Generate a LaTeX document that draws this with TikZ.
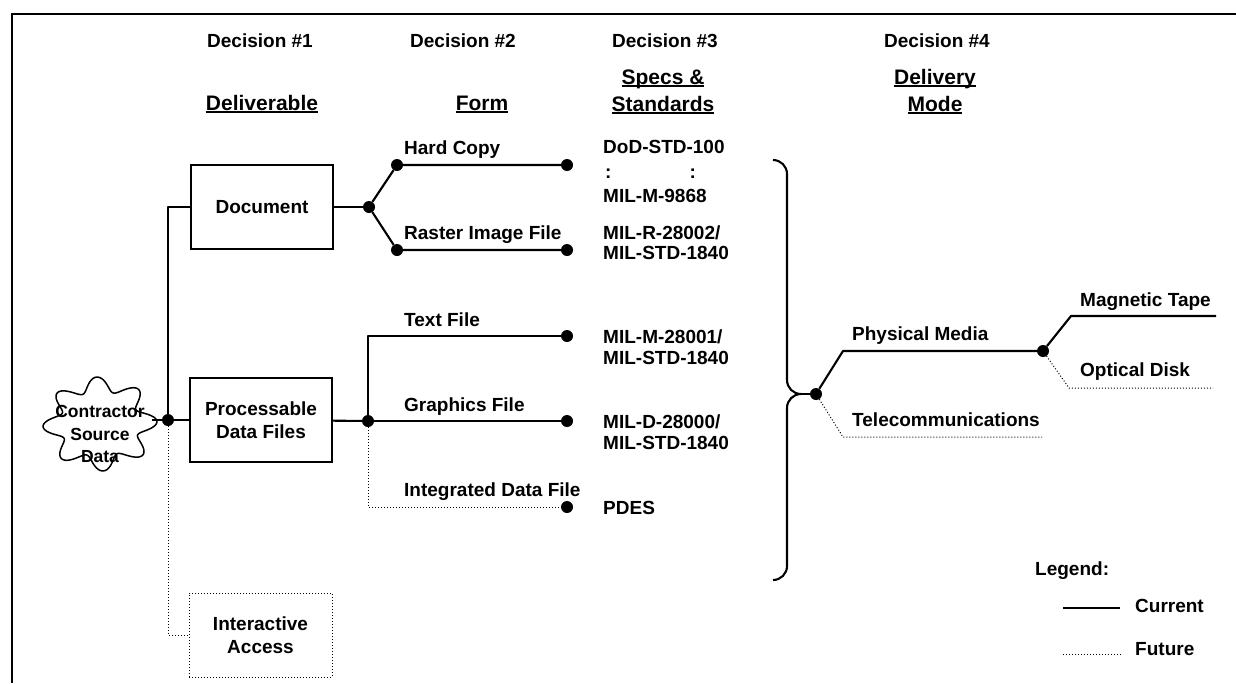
\documentclass[tikz,border=0pt]{standalone}
\usepackage{fontspec}
\setmainfont{Liberation Sans}
% underlined heading word with a rule that cuts through descenders
\newcommand\hdrule[1]{\setbox0=\hbox{#1}\rlap{\rule[-2.5pt]{\wd0}{1.6pt}}\box0}
\begin{document}
\begin{tikzpicture}[x=1pt,y=-1pt,
  every node/.style={font=\fontsize{19}{23}\selectfont\bfseries, inner sep=0pt},
  hd/.style={font=\fontsize{21}{26}\selectfont\bfseries, anchor=base},
  lbl/.style={anchor=base west},
  nowline/.style={line width=2.1pt, line join=round},
  futline/.style={line width=1pt, dash pattern=on 1pt off 2pt},
  jdot/.style={circle, fill=black, minimum size=12pt},
  dbox/.style={draw, line width=2pt, minimum width=142pt, minimum height=84pt, align=center},
  fbox/.style={draw, futline, minimum width=143pt, minimum height=84pt, align=center},
]
\useasboundingbox (0,0) rectangle (1236,683);

% frame
\draw[line width=2.6pt] (1236,14) -- (12,14) -- (12,683);

% column headings
\node[anchor=base] (dec1) at (260,47) {Decision \#1};
\node[anchor=base] (dec2) at (463,47) {Decision \#2};
\node[anchor=base] (dec3) at (665,47) {Decision \#3};
\node[anchor=base] (dec4) at (937,47) {Decision \#4};
\node[hd] (hdel) at (262,110) {\hdrule{Deliverable}};
\node[hd] (hform) at (482,110) {\hdrule{Form}};
\node[hd] (hspec) at (663,84) {\hdrule{Specs \&}};
\node[hd] (hstd) at (663,111) {\hdrule{Standards}};
\node[hd] (hdlv) at (935,84) {\hdrule{Delivery}};
\node[hd] (hmode) at (935,111) {\hdrule{Mode}};

% source: wavy outline behind the text
\node[minimum width=104pt, align=center, font=\fontsize{17.5}{22.5}\selectfont\bfseries] (src) at (100,434) {Contractor\\Source\\Data};
\draw[line width=1.5pt, line join=round] plot[domain=0:360, samples=361]
  ({100+57*(0.85+0.15*cos(8*\x+25))*cos(\x)},
   {424+47*(0.85+0.15*cos(8*\x+25))*sin(\x)}) -- cycle;

% deliverables
\node[jdot] (d1) at (168,420) {};
\node[dbox] (doc) at (262,207) {Document};
\node[dbox] (proc) at (261,420) {Processable\\Data Files};
\node[fbox] (inter) at (260.5,635) {Interactive\\Access};
\draw[nowline] (d1) -- (d1 -| src.east);
\draw[nowline] (d1) -- (proc);
\draw[nowline] (d1) |- (doc);
\draw[futline] (d1) |- (inter);

% forms of a document
\node[jdot] (d2) at (369,207) {};
\node[jdot] (hc0) at (397,165) {};
\node[jdot] (hc1) at (567,165) {};
\node[jdot] (ri0) at (397,250) {};
\node[jdot] (ri1) at (567,250) {};
\draw[nowline] (doc) -- (d2);
\draw[nowline] (d2) -- (hc0) -- (hc1);
\draw[nowline] (d2) -- (ri0) -- (ri1);
\node[lbl] (lhc) at (404,154) {Hard Copy};
\node[lbl] (lri) at (404,239) {Raster Image File};

% forms of processable data
\node[jdot] (d3) at (368,421) {};
\node[jdot] (tf) at (567,336) {};
\node[jdot] (gf) at (567,421) {};
\node[jdot] (idf) at (567,507) {};
\draw[nowline] (proc) -- (d3);
\draw[nowline] (d3) |- (tf);
\draw[nowline] (d3) -- (gf);
\draw[futline] (d3) |- (idf);
\node[lbl] (ltf) at (404,326) {Text File};
\node[lbl] (lgf) at (404,411) {Graphics File};
\node[lbl] (lidf) at (404,496) {Integrated Data File};

% specifications and standards
\node[lbl] (s1) at (603,153) {DoD-STD-100};
\node[lbl] (s2) at (605,178) {:\hspace{78pt}:};
\node[lbl] (s3) at (603,202) {MIL-M-9868};
\node[lbl] (s4) at (603,239) {MIL-R-28002/};
\node[lbl] (s5) at (603,259) {MIL-STD-1840};
\node[lbl] (s6) at (603,343) {MIL-M-28001/};
\node[lbl] (s7) at (603,364) {MIL-STD-1840};
\node[lbl] (s8) at (603,428) {MIL-D-28000/};
\node[lbl] (s9) at (603,449) {MIL-STD-1840};
\node[lbl] (s10) at (603,514) {PDES};

% brace gathering all deliverables
\coordinate (cusp) at (801,394);
\draw[nowline] (773,160) to[out=0,in=90] (787,174) -- (787,380)
  to[out=-90,in=180] (cusp) to[out=180,in=90] (787,408) -- (787,566)
  to[out=-90,in=0] (773,580);

% delivery mode
\node[jdot] (dm) at (816,394) {};
\draw[nowline] (cusp) -- (dm);
\coordinate (pm0) at (843,351);
\node[jdot] (pm1) at (1043,351) {};
\coordinate (tc0) at (843,437);
\coordinate (tc1) at (1042,437);
\draw[nowline] (dm) -- (pm0) -- (pm1);
\draw[futline] (dm) -- (tc0) -- (tc1);
\node[lbl] (lpm) at (852,340) {Physical Media};
\node[lbl] (ltc) at (852,426) {Telecommunications};
\coordinate (mt0) at (1071,316);
\coordinate (mt1) at (1216,316);
\coordinate (od0) at (1069,388);
\coordinate (od1) at (1213,388);
\draw[nowline] (pm1) -- (mt0) -- (mt1);
\draw[futline] (pm1) -- (od0) -- (od1);
\node[lbl] (lmt) at (1080,306) {Magnetic Tape};
\node[lbl] (lod) at (1080,376) {Optical Disk};

% legend
\node[lbl] (leg) at (1035,575) {Legend:};
\coordinate (lc0) at (1063,608);
\coordinate (lc1) at (1120,608);
\coordinate (lf0) at (1063,654);
\coordinate (lf1) at (1121,654);
\draw[line width=1.6pt] (lc0) -- (lc1);
\draw[futline] (lf0) -- (lf1);
\node[lbl] (lcur) at (1135,612) {Current};
\node[lbl] (lfut) at (1135,655) {Future};
\end{tikzpicture}
\end{document}
